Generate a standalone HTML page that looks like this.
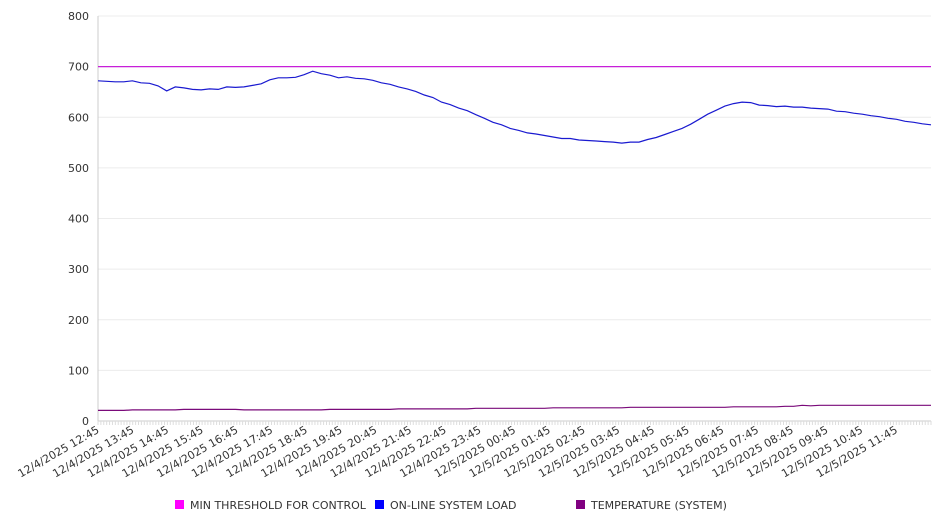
<!DOCTYPE html>
<html><head><meta charset="utf-8"><style>
body{margin:0;background:#fff;width:946px;height:526px;overflow:hidden}
svg{display:block;font-family:"DejaVu Sans","Liberation Sans",sans-serif}
</style></head><body>
<svg id="chart" width="946" height="526" xmlns="http://www.w3.org/2000/svg"></svg>
<script>
const yTicks = [0,100,200,300,400,500,600,700,800];
const xLabels = ["12/4/2025 12:45","12/4/2025 13:45","12/4/2025 14:45","12/4/2025 15:45","12/4/2025 16:45","12/4/2025 17:45","12/4/2025 18:45","12/4/2025 19:45","12/4/2025 20:45","12/4/2025 21:45","12/4/2025 22:45","12/4/2025 23:45","12/5/2025 00:45","12/5/2025 01:45","12/5/2025 02:45","12/5/2025 03:45","12/5/2025 04:45","12/5/2025 05:45","12/5/2025 06:45","12/5/2025 07:45","12/5/2025 08:45","12/5/2025 09:45","12/5/2025 10:45","12/5/2025 11:45"];
const seriesNames = ["MIN THRESHOLD FOR CONTROL","ON-LINE SYSTEM LOAD","TEMPERATURE (SYSTEM)"];
const thresholdValue = 700;
const loadValues = [672,671,670,670,672,668,667,662,652,660,658,655,654,656,655,660,659,660,663,666,674,678,678,679,684,691,686,683,678,680,677,676,673,668,665,660,656,651,644,639,630,625,618,613,605,598,590,585,578,574,569,567,564,561,558,558,555,554,553,552,551,549,551,551,556,560,566,572,578,586,596,606,614,622,627,630,629,624,623,621,622,620,620,618,617,616,612,611,608,606,603,601,598,596,592,590,587,585];
const tempValues = [21,21,21,21,22,22,22,22,22,22,23,23,23,23,23,23,23,22,22,22,22,22,22,22,22,22,22,23,23,23,23,23,23,23,23,24,24,24,24,24,24,24,24,24,25,25,25,25,25,25,25,25,25,26,26,26,26,26,26,26,26,26,27,27,27,27,27,27,27,27,27,27,27,27,28,28,28,28,28,28,29,29,31,30,31,31,31,31,31,31,31,31,31,31,31,31,31,31];

const svg = document.getElementById('chart');
const NS = 'http://www.w3.org/2000/svg';
const L = 98, R = 931, T = 16, B = 421;
function yScale(v){ return B - (v/800)*(B-T); }
function xIdx(i,n){ return L + i*(R-L)/(n-1); }
function mk(tag, attrs){ const e = document.createElementNS(NS, tag); for (const k in attrs) e.setAttribute(k, attrs[k]); svg.appendChild(e); return e; }

yTicks.forEach(v => {
  const g = mk('line',{x1:L,x2:R,y1:yScale(v),y2:yScale(v),stroke:v===0?'#ccc':'#ececec','stroke-width':1});
  
  
  const t = mk('text',{x:89,y:yScale(v)+4,'text-anchor':'end','font-size':11,fill:'#333'});
  t.textContent = v;
  
  
});
const ax = mk('line',{x1:L,x2:L,y1:T,y2:B,stroke:'#ccc'});


const nMinor = 24*12;
for (let i=0;i<=nMinor;i++){
  const x = L + i*(R-L)/nMinor;
  const tk = mk('line',{x1:x,x2:x,y1:B,y2:B+4,stroke:'#ddd'});
  
  
}
xLabels.forEach((lab,i) => {
  const x = L + i*(R-L)/24;
  const t = mk('text',{x:x+2,y:B+11,'text-anchor':'end','font-size':11,fill:'#333',transform:`rotate(-30 ${x+2} ${B+11})`});
  t.textContent = lab;
  
  
});
const th = mk('line',{x1:L,x2:R,y1:yScale(thresholdValue),y2:yScale(thresholdValue),stroke:'#c71fd9','stroke-width':1.2});


function path(vals,color,name){
  const d = vals.map((v,i)=>(i?'L':'M')+xIdx(i,vals.length).toFixed(1)+' '+yScale(v).toFixed(1)).join(' ');
  const p = mk('path',{d:d,fill:'none',stroke:color,'stroke-width':1.2});
  
  
}
path(tempValues,'#7a0a7a','temperature-line');
path(loadValues,'#1a1ad0','load-line');

const legX = [175,375,576], legC = ['#ff00ff','#0000ff','#800080'];
seriesNames.forEach((n,i)=>{
  const r = mk('rect',{x:legX[i],y:500,width:9,height:9,fill:legC[i]});
  
  
  const t = mk('text',{x:legX[i]+15,y:509,'font-size':11,fill:'#333'});
  t.textContent = n;
  
  
});
</script>
</body></html>
